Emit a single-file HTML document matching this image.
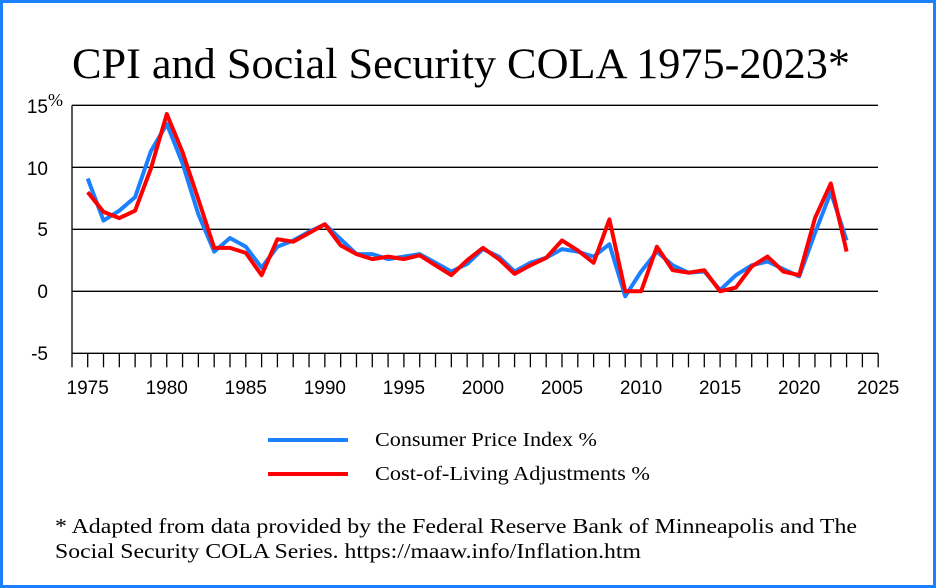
<!DOCTYPE html>
<html><head><meta charset="utf-8"><style>
html,body{margin:0;padding:0;background:#fff}
svg{display:block}
</style></head><body>
<svg id="s" width="936" height="588" xmlns="http://www.w3.org/2000/svg">
<rect x="1.5" y="1.5" width="933" height="585" fill="#fff" stroke="#1a80ff" stroke-width="3"/>
<text x="72" y="78" textLength="778" lengthAdjust="spacingAndGlyphs" font-family="Liberation Serif, serif" font-size="43">CPI and Social Security COLA 1975-2023*</text>
<g id="grid" stroke="#000" stroke-width="1.3"></g>
<g font-family="Liberation Sans, sans-serif" font-size="19" fill="#000">
<text x="48" y="113" text-anchor="end">15</text>
<text x="48" y="106" font-family="Liberation Serif, serif" font-size="18">%</text>
<text x="48" y="175" text-anchor="end">10</text>
<text x="48" y="236" text-anchor="end">5</text>
<text x="48" y="298" text-anchor="end">0</text>
<text x="48" y="360" text-anchor="end">-5</text>
</g>
<g id="xl" font-family="Liberation Sans, sans-serif" font-size="19" text-anchor="middle"></g>
<polyline id="cpi" fill="none" stroke="#1a80ff" stroke-width="4" stroke-linejoin="round"/>
<polyline id="cola" fill="none" stroke="#ff0000" stroke-width="4" stroke-linejoin="round"/>
<line x1="268" y1="440" x2="348" y2="440" stroke="#1a80ff" stroke-width="4"/>
<line x1="268" y1="474" x2="348" y2="474" stroke="#ff0000" stroke-width="4"/>
<g font-family="Liberation Serif, serif" font-size="20">
<text x="375" y="446" textLength="222" lengthAdjust="spacingAndGlyphs">Consumer Price Index %</text>
<text x="375" y="480" textLength="275" lengthAdjust="spacingAndGlyphs">Cost-of-Living Adjustments %</text>
</g>
<g font-family="Liberation Serif, serif" font-size="21">
<text x="55" y="533" textLength="802" lengthAdjust="spacingAndGlyphs">* Adapted from data provided by the Federal Reserve Bank of Minneapolis  and The</text>
<text x="55" y="558" textLength="586" lengthAdjust="spacingAndGlyphs">Social Security COLA Series. https://maaw.info/Inflation.htm</text>
</g>
</svg>
<script>
var NS="http://www.w3.org/2000/svg";
function X(y){return 87.7+(y-1975)*15.81;}
function Y(v){return 291.3-v*12.4;}
var g=document.getElementById('grid');
function ln(a,b,c,d){var l=document.createElementNS(NS,'line');l.setAttribute('x1',a);l.setAttribute('y1',b);l.setAttribute('x2',c);l.setAttribute('y2',d);g.appendChild(l);}
[15,10,5,0,-5].forEach(function(v){ln(72,Y(v),878,Y(v));});
ln(72,Y(15),72,Y(-5)+14);
for(var y=1975;y<=2025;y++){ln(X(y),Y(-5),X(y),Y(-5)+14);}
var xl=document.getElementById('xl');
for(var y=1975;y<=2025;y+=5){var t=document.createElementNS(NS,'text');t.setAttribute('x',X(y));t.setAttribute('y',394);t.textContent=y;xl.appendChild(t);}
var cpi=[9.1,5.7,6.5,7.6,11.3,13.5,10.3,6.2,3.2,4.3,3.6,1.9,3.6,4.1,4.8,5.4,4.2,3.0,3.0,2.6,2.8,3.0,2.3,1.6,2.2,3.4,2.8,1.6,2.3,2.7,3.4,3.2,2.8,3.8,-0.4,1.6,3.2,2.1,1.5,1.6,0.1,1.3,2.1,2.4,1.8,1.2,4.7,8.0,4.1];
var cola=[8.0,6.4,5.9,6.5,9.9,14.3,11.2,7.4,3.5,3.5,3.1,1.3,4.2,4.0,4.7,5.4,3.7,3.0,2.6,2.8,2.6,2.9,2.1,1.3,2.5,3.5,2.6,1.4,2.1,2.7,4.1,3.3,2.3,5.8,0,0,3.6,1.7,1.5,1.7,0,0.3,2.0,2.8,1.6,1.3,5.9,8.7,3.2];
function pts(a){return a.map(function(v,i){return X(1975+i).toFixed(1)+','+Y(v).toFixed(1);}).join(' ');}
document.getElementById('cpi').setAttribute('points',pts(cpi));
document.getElementById('cola').setAttribute('points',pts(cola));
</script>
</body></html>
